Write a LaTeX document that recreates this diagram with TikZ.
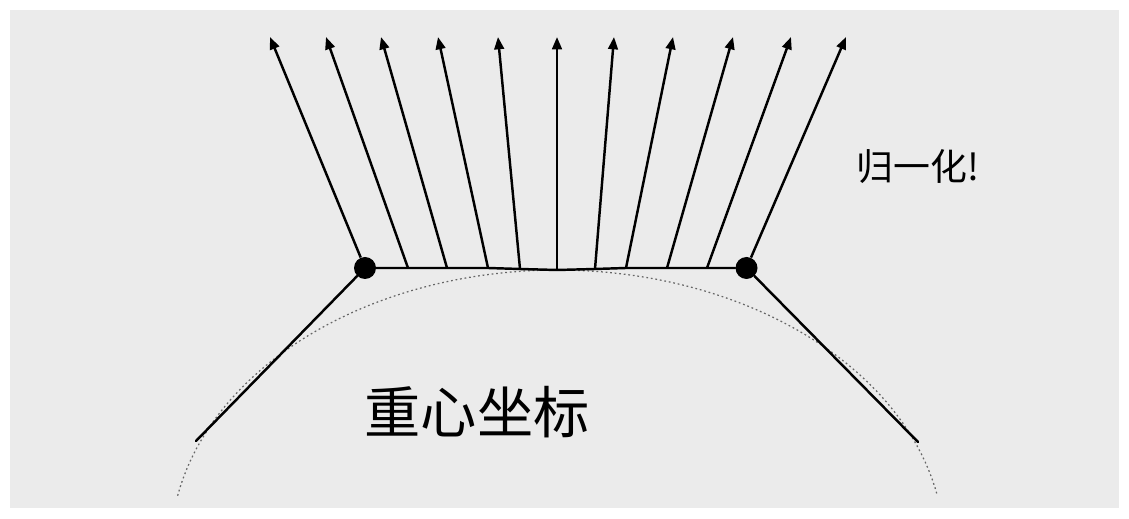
\documentclass[tikz,border=0pt]{standalone}
\usepackage{fontspec}
\newfontfamily\cjk{Noto Sans CJK SC}
\usetikzlibrary{arrows.meta}

\begin{document}
\begin{tikzpicture}[x=0.02cm,y=-0.02cm,
  ray/.style={line width=1.4pt, -{Triangle[length=7pt,width=5.5pt]}},
  edge/.style={line width=1.4pt, line cap=round},
  vertex/.style={circle, fill=black, inner sep=0pt, minimum size=0.44cm},
  hint/.style={font=\cjk\fontsize{32}{36}\selectfont}]

% slide area
\fill[white] (0,0) rectangle (1129,519);
\fill[black!8] (10,10) rectangle (1119,508);

% dotted surface
\draw[black!60, line width=0.7pt, dash pattern=on 1pt off 1.6pt]
  plot[domain=191:349, samples=90] ({557.5+387*cos(\x)},{549+279*sin(\x)});

% the two vertices and the free ends
\node[vertex] (pL) at (365,268) {};
\node[vertex] (pR) at (746.5,268) {};
\coordinate (eL) at (196,441);
\coordinate (eR) at (918,442);

% points on the edge and arrow tips
\coordinate (t0) at (270,37);
\coordinate (t10) at (846,37);
\foreach \i/\bx/\by/\tx in {1/408/268/326, 2/447/268/381, 3/488/268/438, 4/520/269/498,
                             5/557/270/557, 6/595/269/614, 7/626/268/673, 8/667/268/733, 9/707/268/791} {
  \coordinate (b\i) at (\bx,\by);
  \coordinate (t\i) at (\tx,37);
}

% edges
\draw[edge] (eL) -- (pL);
\draw[edge] (pL) -- (b1) -- (b2) -- (b3) -- (b4) -- (b5) -- (b6) -- (b7) -- (b8) -- (b9) -- (pR);
\draw[edge] (pR) -- (eR);

% normals
\draw[ray] (pL) -- (t0);
\foreach \i in {1,...,9}
  \draw[ray] (b\i) -- (t\i);
\draw[ray] (pR) -- (t10);

% labels
\node[hint] (bary) at (477,412) {重心坐标};
\node[hint, font=\cjk\fontsize{21}{24}\selectfont] (norm) at (918,167) {归一化!};

\end{tikzpicture}
\end{document}
